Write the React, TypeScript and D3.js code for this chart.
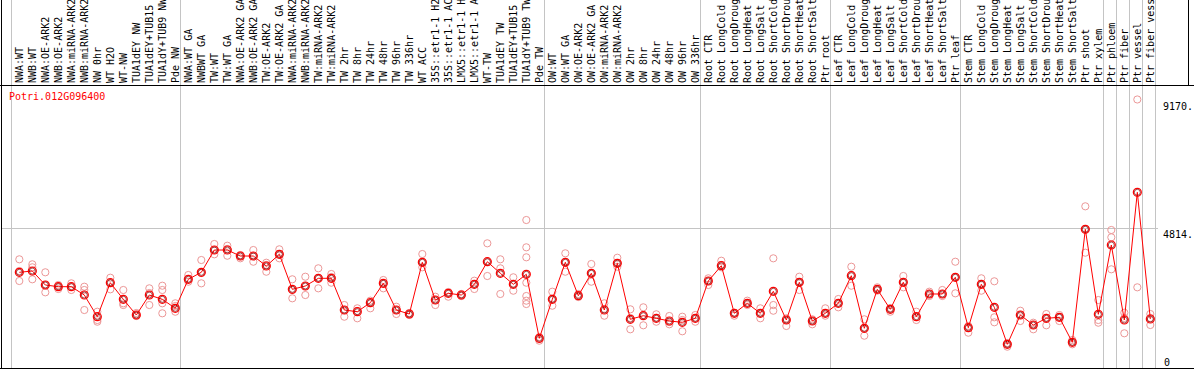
import React from "react";
import * as d3 from "d3";

const geneName = "Potri.012G096400";

const labels: string[] = [
  "NWA:WT", "NWB:WT", "NWA:OE-ARK2", "NWB:OE-ARK2", "NWA:miRNA-ARK2", "NWB:miRNA-ARK2", "NW 0hr", "WT H2O", "WT-NW", "TUA1dEY NW", "TUA1dEY+TUB15 NW", "TUA1dY+TUB9 NW", "Pde NW",
  "NWA:WT GA", "NWBWT GA", "TW:WT", "TW:WT GA", "NWA:OE-ARK2 GA", "NWB:OE-ARK2 GA", "TW:OE-ARK2", "TW:OE-ARK2 GA", "NWA:miRNA-ARK2", "NWB:miRNA-ARK2", "TW:miRNA-ARK2", "TW:miRNA-ARK2", "TW 2hr", "TW 8hr", "TW 24hr", "TW 48hr", "TW 96hr", "TW 336hr", "WT ACC", "35S::etr1-1 H2O", "35S::etr1-1 ACC", "LMX5::etr1-1 H2O", "LMX5::etr1-1 ACC", "WT-TW", "TUA1dEY TW", "TUA1dEY+TUB15 TW", "TUA1dY+TUB9 TW", "Pde TW",
  "OW:WT", "OW:WT GA", "OW:OE-ARK2", "OW:OE-ARK2 GA", "OW:miRNA-ARK2", "OW:miRNA-ARK2", "OW 2hr", "OW 8hr", "OW 24hr", "OW 48hr", "OW 96hr", "OW 336hr",
  "Root CTR", "Root LongCold", "Root LongDrought", "Root LongHeat", "Root LongSalt", "Root ShortCold", "Root ShortDrought", "Root ShortHeat", "Root ShortSalt", "Ptr root",
  "Leaf CTR", "Leaf LongCold", "Leaf LongDrought", "Leaf LongHeat", "Leaf LongSalt", "Leaf ShortCold", "Leaf ShortDrought", "Leaf ShortHeat", "Leaf ShortSalt", "Ptr leaf",
  "Stem CTR", "Stem LongCold", "Stem LongDrought", "Stem LongHeat", "Stem LongSalt", "Stem ShortCold", "Stem ShortDrought", "Stem ShortHeat", "Stem ShortSalt", "Ptr shoot", "Ptr xylem",
  "Ptr phloem", "Ptr fiber", "Ptr vessel", "Ptr fiber vessel",
];

// index at which each separator line sits (group starts, plus the end)
const groupBreaks: number[] = [0, 13, 41, 53, 63, 73, 84, 85, 86, 87, 88];

const means: number[] = [
  3290, 3334, 2858, 2800, 2800, 2517, 1779, 2936, 2371, 1837, 2517, 2371, 2065,
  3052, 3290, 4048, 4048, 3844, 3844, 3504, 3902, 2711, 2824, 3086, 3086, 2007, 1949, 2256, 2915, 2007, 1871, 3630, 2347, 2575, 2517, 2881, 3650, 3256, 2881, 3222, 1044,
  2371, 3630, 2494, 3256, 2007, 3596, 1691, 1813, 1725, 1633, 1589, 1725,
  2994, 3514, 1895, 2235, 1895, 2643, 1667, 2950, 1633, 1895,
  2235, 3174, 1385, 2711, 2031, 2950, 1779, 2552, 2552, 3120,
  1405, 2881, 2099, 840, 1837, 1497, 1725, 1759, 908, 4753, 1861,
  4218, 1667, 6011, 1701,
];

const replicates: number[][] = [
  [3732, 3334, 2994], [3562, 3460, 3052], [3290, 2609, 2858], [2858, 2722, 2800], [2915, 2688, 2790],
  [2800, 2688, 2007], [1949, 1667, 1609], [3106, 2711, 2926], [2688, 2235, 2177], [1905, 1803, 1837],
  [2745, 2177, 2585], [2834, 2688, 2235, 1895], [2235, 1949, 2143],
  [3198, 2970, 3062], [3708, 2915, 3266], [4253, 3902, 4048], [4195, 3854, 4082], [3844, 3766, 3878],
  [4048, 3650, 3844], [3616, 3310, 3538], [4072, 3766, 3912], [3052, 2405, 2688], [3140, 2517, 2824],
  [3426, 2745, 3096], [3232, 2936, 3130], [2177, 1779, 2007], [2065, 1725, 1973], [2324, 2065, 2245],
  [3028, 2745, 2892], [2119, 1871, 2007], [1871, 1905, 1837], [3912, 3460, 3640], [2460, 2177, 2347],
  [2460, 2620, 2585], [2552, 2483, 2517], [3004, 2722, 2892], [4276, 3164, 3640], [3732, 3426, 2552],
  [3120, 2664, 2892], [5069, 4140, 3800, 2936, 2483, 2324, 2211], [963, 1089, 1021],
  [2630, 2153, 2381], [3936, 3310, 3640], [2552, 2449, 2483], [3572, 2970, 3266], [2235, 1813, 2041],
  [3786, 3480, 3606], [2031, 1351, 1735], [2099, 1487, 1837], [1861, 1609, 1735], [1803, 1521, 1599],
  [1779, 1283, 1667], [1837, 1609, 1735],
  [3086, 2858, 2994], [3684, 3460, 3538], [1915, 1813, 1905], [2324, 2177, 2245], [2065, 1725, 1905],
  [3766, 2177, 1983], [1725, 1463, 1667], [3140, 2688, 2960], [1691, 1521, 1633], [2065, 1813, 1905],
  [2381, 2099, 2245], [3480, 2834, 3198], [1691, 1133, 1395], [2779, 2664, 2722], [1949, 2075, 2041],
  [3164, 2779, 2960], [1949, 1667, 1769], [2630, 2483, 2552], [2688, 2483, 2552], [3650, 2575, 3130],
  [1235, 1463, 1395], [3086, 2664, 2892], [2984, 1759, 1589], [759, 885, 851], [1983, 1633, 1837],
  [1575, 1351, 1497], [1871, 1487, 1735], [1837, 1633, 1769], [987, 840, 919], [5535, 3957, 4763],
  [2347, 1667, 1575],
  [4729, 4480, 3392], [1915, 1215, 1735], [9170, 2779], [1871, 1497, 1735],
];

const axisValues: number[] = [9170, 4814, 0];
const axisLabels: string[] = ["9170.", "4814.", "0"];

const W = 1194;
const H = 370;
const headerBottom = 85.5;
const plotTop = 86;
const plotBottom = 369;
const FONT = "'DejaVu Sans Mono', monospace";

export default function App() {
  const maxVal = d3.max(replicates.flat().concat(means)) as number;
  const y = d3.scaleLinear().domain([0, maxVal * 1.05]).range([plotBottom, plotTop]);
  const band = d3
    .scaleBand<number>()
    .domain(d3.range(labels.length))
    .range([11, 1155])
    .paddingInner(0)
    .paddingOuter(0);
  const bw = band.bandwidth();
  const px = (i: number) => (band(i) as number) + bw * 0.64;
  const boundaryX = (b: number) => (b < labels.length ? (band(b) as number) : 11 + bw * b);

  const line = d3
    .line<number>()
    .x((_, i) => px(i))
    .y((d) => y(d));

  const repColor = "#ec9898";
  const red = "#ff0000";

  return (
    <svg
      width={W}
      height={H}
      style={{ position: "absolute", left: 0, top: 0, background: "#fff" }}
      xmlns="http://www.w3.org/2000/svg"
    >
      <rect x={0} y={0} width={W} height={H} fill="#fff" />
      {/* separator lines */}
      {groupBreaks.map((b, k) => (
        <line
          key={"g" + k}
          x1={Math.round(boundaryX(b)) + 0.5}
          x2={Math.round(boundaryX(b)) + 0.5}
          y1={0}
          y2={plotBottom}
          stroke="#c4c4c4"
          strokeWidth={1}
        />
      ))}
      {/* mid horizontal grid line */}
      <line
        x1={1}
        x2={1158}
        y1={Math.round(y(axisValues[1])) + 0.5}
        y2={Math.round(y(axisValues[1])) + 0.5}
        stroke="#c4c4c4"
        strokeWidth={1}
      />
      {/* frame */}
      <line x1={0} x2={W} y1={headerBottom} y2={headerBottom} stroke="#000" strokeWidth={1} />
      <line x1={1.5} x2={1.5} y1={0} y2={plotBottom} stroke="#000" strokeWidth={1} />
      <line x1={1188.5} x2={1188.5} y1={0} y2={headerBottom} stroke="#000" strokeWidth={1} />
      <line x1={0} x2={W} y1={plotBottom - 0.5} y2={plotBottom - 0.5} stroke="#000" strokeWidth={1} />

      {/* header labels */}
      {labels.map((l, i) => (
        <text
          key={"l" + i}
          transform={`translate(${px(i) + 3.6},83) rotate(-90)`}
          fontFamily={FONT}
          fontSize={10}
          fill="#000"
        >
          {l}
        </text>
      ))}

      {/* gene name */}
      <text x={9} y={100} fontFamily={FONT} fontSize={10} fill={red}>
        {geneName}
      </text>

      {/* right axis labels */}
      {axisValues.map((v, k) => (
        <text
          key={"a" + k}
          x={k === 2 ? 1164 : 1163}
          y={v === 0 ? 366 : y(v) + (k === 0 ? 11 : 10)}
          fontFamily={FONT}
          fontSize={10}
          fill="#000"
        >
          {axisLabels[k]}
        </text>
      ))}

      {/* replicates */}
      {replicates.map((arr, i) =>
        arr.map((v, j) => (
          <circle
            key={"r" + i + "_" + j}
            cx={px(i)}
            cy={y(v)}
            r={3.6}
            fill="none"
            stroke={repColor}
            strokeWidth={1}
          />
        ))
      )}

      {/* mean line */}
      <path d={line(means) as string} fill="none" stroke={red} strokeWidth={1} />

      {/* means */}
      {means.map((v, i) => (
        <g key={"m" + i}>
          <circle cx={px(i)} cy={y(v)} r={4} fill="none" stroke={red} strokeWidth={1.2} />
          <circle cx={px(i)} cy={y(v)} r={3} fill="none" stroke="#7a0000" strokeWidth={0.7} />
        </g>
      ))}
    </svg>
  );
}
